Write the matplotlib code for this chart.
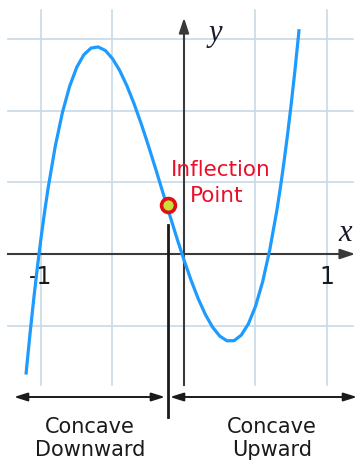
import matplotlib
matplotlib.use("Agg")
import matplotlib.pyplot as plt

# ---------------- DATA ----------------
curve_x = [-1.105, -1.10, -1.075, -1.05, -1.025, -1.00, -0.975, -0.95, -0.90, -0.85,
           -0.80, -0.75, -0.70, -0.65, -0.60, -0.55, -0.50, -0.45, -0.40, -0.35,
           -0.30, -0.25, -0.20, -0.15, -0.10, -0.05, 0.00, 0.05, 0.10, 0.15,
           0.20, 0.25, 0.30, 0.35, 0.40, 0.45, 0.50, 0.55, 0.60, 0.65,
           0.675, 0.70, 0.725, 0.75, 0.775, 0.80, 0.805]
curve_y = [-0.843, -0.791, -0.540, -0.307, -0.090, 0.110, 0.294, 0.462, 0.755, 0.990,
           1.172, 1.306, 1.394, 1.440, 1.448, 1.423, 1.366, 1.284, 1.178, 1.053,
           0.913, 0.761, 0.601, 0.437, 0.273, 0.112, -0.042, -0.185, -0.314, -0.424,
           -0.512, -0.574, -0.607, -0.606, -0.568, -0.489, -0.366, -0.194, 0.030, 0.309,
           0.471, 0.649, 0.842, 1.051, 1.277, 1.521, 1.572]

grid_x = [-1.0, -0.5, 0.5, 1.0]
grid_y = [-0.5, 0.5, 1.0, 1.5]
tick_x = [-1, 1]
tick_labels = ["-1", "1"]

inflection = (-0.112, 0.34)
regions = ["Concave\nDownward", "Concave\nUpward"]
region_x = [-0.657, 0.615]

# ---------------- FIGURE ----------------
fig = plt.figure(figsize=(3.6, 4.65), dpi=100)
ax = fig.add_axes([0, 0, 1, 1])
ax.set_xlim(-1.2867, 1.2308)
ax.set_ylim(-1.4755, 1.7762)
ax.axis("off")

grid_color = "#c6dae6"
for gx in grid_x:
    ax.plot([gx, gx], [-0.916, 1.706], color=grid_color, lw=1.2, zorder=1)
for gy in grid_y:
    ax.plot([-1.231, 1.182], [gy, gy], color=grid_color, lw=1.2, zorder=1)

# axes with arrow heads
axis_color = "#3a3a3a"
ax.plot([-1.231, 1.15], [0, 0], color=axis_color, lw=1.5, zorder=2)
ax.annotate("", xy=(1.217, 0), xytext=(1.10, 0),
            arrowprops=dict(arrowstyle="-|>,head_length=0.9,head_width=0.3",
                            color=axis_color, lw=1.5), zorder=2)
ax.plot([0, 0], [-0.916, 1.60], color=axis_color, lw=1.5, zorder=2)
ax.annotate("", xy=(0, 1.671), xytext=(0, 1.55),
            arrowprops=dict(arrowstyle="-|>,head_length=0.9,head_width=0.3",
                            color=axis_color, lw=1.5), zorder=2)

ax.text(1.125, 0.14, "x", fontsize=22, style="italic", family="Liberation Serif",
        color="#1a1a2a", ha="center", va="center")
ax.text(0.22, 1.545, "y", fontsize=22, style="italic", family="Liberation Serif",
        color="#1a1a2a", ha="center", va="center")

for tx, tl in zip(tick_x, tick_labels):
    ax.text(tx, -0.16, tl, fontsize=17, color="#1a1a1a", ha="center", va="center")

# curve
ax.plot(curve_x, curve_y, color="#1e9bff", lw=2.3, solid_capstyle="butt",
        solid_joinstyle="round", zorder=3)

# inflection divider and point
ax.plot([inflection[0], inflection[0]], [0.203, -1.14], color="#1a1a1a", lw=2.0, zorder=4)
ax.plot(*inflection, "o", ms=10, mfc="#c8e03c", mec="#e01010", mew=2.6, zorder=5)
ax.text(0.26, 0.59, "Inflection", fontsize=15.5, color="#e8102a", ha="center", va="center")
ax.text(0.227, 0.406, "Point", fontsize=15.5, color="#e8102a", ha="center", va="center")

# concavity ranges
ax.annotate("", xy=(-1.189, -1.0), xytext=(-0.133, -1.0),
            arrowprops=dict(arrowstyle="<|-|>,head_length=0.8,head_width=0.25",
                            color="#1a1a1a", lw=1.4, shrinkA=0, shrinkB=0))
ax.annotate("", xy=(-0.098, -1.0), xytext=(1.21, -1.0),
            arrowprops=dict(arrowstyle="<|-|>,head_length=0.8,head_width=0.25",
                            color="#1a1a1a", lw=1.4, shrinkA=0, shrinkB=0))
for rx, rl in zip(region_x, regions):
    ax.text(rx, -1.29, rl, fontsize=15, color="#1a1a1a", ha="center", va="center",
            linespacing=1.2)

fig.savefig("out.png", dpi=100)
plt.close(fig)
